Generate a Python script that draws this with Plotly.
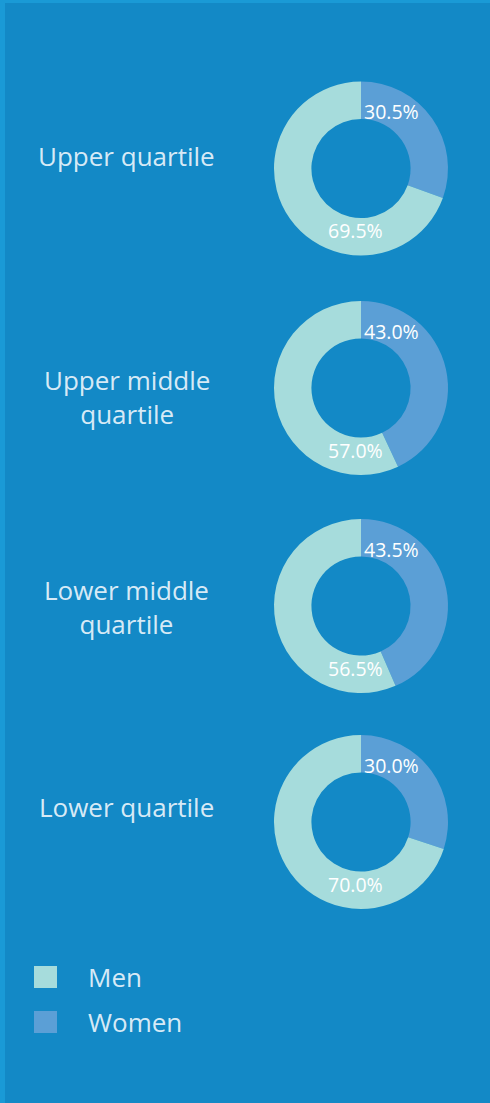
import plotly.graph_objects as go

# ---- data ----
categories = ["Upper quartile", "Upper middle<br>quartile", "Lower middle<br>quartile", "Lower quartile"]
series_names = ["Women", "Men"]
women = [30.5, 43.0, 43.5, 30.0]
men = [69.5, 57.0, 56.5, 70.0]

# ---- style ----
W, H = 490, 1103
BG = "#1389C6"
EDGE = "#1A9AD6"
MEN_C = "#A6DCDC"
WOMEN_C = "#5B9FD6"
TXT = "rgba(235,245,252,0.92)"
FONT = "Open Sans"

cx = 361
centers_y = [168.5, 388, 606, 822]
label_y = [156, 397, 606.5, 807]
R = 87

def px(x):
    return x / W

def py(y):
    return 1 - y / H

fig = go.Figure()
annotations = []
for i, cat in enumerate(categories):
    cy = centers_y[i]
    fig.add_trace(go.Pie(
        labels=series_names,
        values=[women[i], men[i]],
        marker=dict(colors=[WOMEN_C, MEN_C], line=dict(width=0)),
        hole=0.57,
        sort=False,
        direction="clockwise",
        rotation=0,
        textinfo="none",
        hoverinfo="label+percent",
        showlegend=False,
        domain=dict(x=[px(cx - R), px(cx + R)], y=[py(cy + R), py(cy - R)]),
    ))
    annotations.append(dict(
        x=px(cx + 30), y=py(cy - 57), xref="paper", yref="paper",
        text=f"{women[i]:.1f}%", showarrow=False,
        font=dict(family=FONT, size=19.5, color="white"),
        xanchor="center", yanchor="middle",
    ))
    annotations.append(dict(
        x=px(cx - 6), y=py(cy + 62), xref="paper", yref="paper",
        text=f"{men[i]:.1f}%", showarrow=False,
        font=dict(family=FONT, size=19.5, color="white"),
        xanchor="center", yanchor="middle",
    ))
    annotations.append(dict(
        x=px(126.5), y=py(label_y[i]), xref="paper", yref="paper",
        text=cat, showarrow=False, align="center",
        font=dict(family=FONT, size=26, color=TXT),
        xanchor="center", yanchor="middle",
    ))

# legend (drawn manually for large square swatches)
legend_items = [("Men", MEN_C, 977), ("Women", WOMEN_C, 1022)]
shapes = [
    dict(type="rect", xref="paper", yref="paper", x0=0, x1=px(5), y0=0, y1=1,
         fillcolor=EDGE, line=dict(width=0), layer="below"),
    dict(type="rect", xref="paper", yref="paper", x0=0, x1=1, y0=py(3), y1=1,
         fillcolor=EDGE, line=dict(width=0), layer="below"),
]
for name, col, yc in legend_items:
    shapes.append(dict(type="rect", xref="paper", yref="paper",
                       x0=px(34), x1=px(57), y0=py(yc + 11), y1=py(yc - 11),
                       fillcolor=col, line=dict(width=0)))
    annotations.append(dict(
        x=px(86), y=py(yc), xref="paper", yref="paper", text=name,
        showarrow=False, xanchor="left", yanchor="middle",
        font=dict(family=FONT, size=26, color=TXT),
    ))

fig.update_layout(
    width=W, height=H,
    margin=dict(l=0, r=0, t=0, b=0),
    paper_bgcolor=BG, plot_bgcolor=BG,
    annotations=annotations,
    shapes=shapes,
    showlegend=False,
)

fig.write_html(
    "out.html",
    config={"displayModeBar": False},
    post_script="document.body.style.margin='0';document.body.style.overflow='hidden';",
)
